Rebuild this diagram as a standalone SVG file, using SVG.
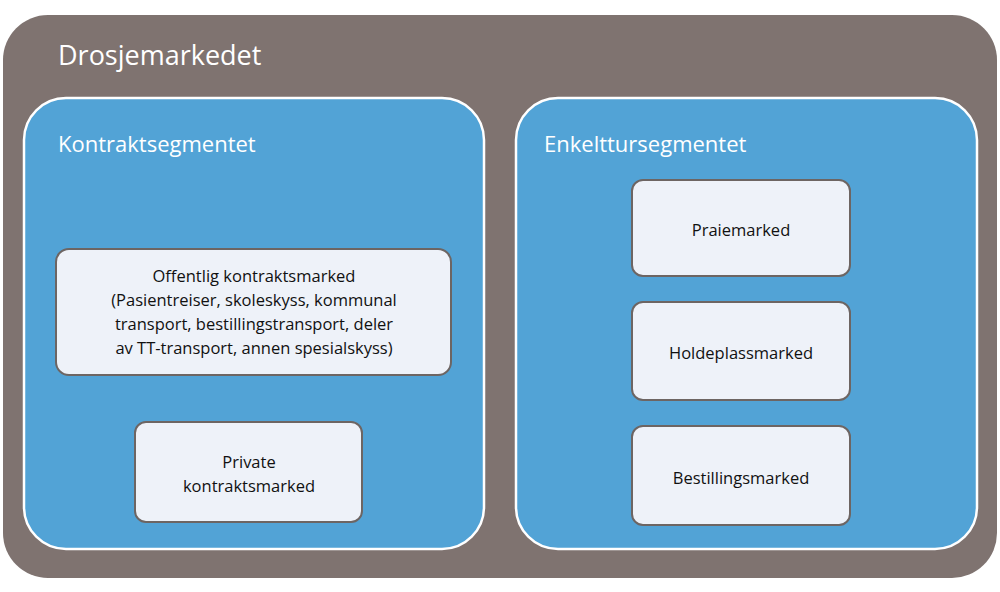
<svg xmlns="http://www.w3.org/2000/svg" width="1000" height="592" viewBox="0 0 1000 592">
<style>
.outer{fill:#7f7370}
.seg{fill:#52a3d6;stroke:#ffffff;stroke-width:2.5}
.box{fill:#eef2f9;stroke:#6d6563;stroke-width:2}
.h1{font-family:"Open Sans","Liberation Sans",sans-serif;font-size:27px;fill:#ffffff}
.h2{font-family:"Open Sans","Liberation Sans",sans-serif;font-size:22px;fill:#ffffff}
.t{font-family:"Open Sans","Liberation Sans",sans-serif;font-size:16.5px;fill:#111111;text-anchor:middle}
</style>
<rect x="0" y="0" width="1000" height="592" fill="#ffffff"/>
<g id="drosjemarkedet">
<rect class="outer" x="3" y="15" width="994" height="563" rx="45"/>
<text class="h1" x="58" y="65">Drosjemarkedet</text>
</g>
<g id="kontraktsegmentet">
<rect class="seg" x="24" y="98" width="460" height="451" rx="42"/>
<text class="h2" x="58" y="152">Kontraktsegmentet</text>
</g>
<g id="enkelttursegmentet">
<rect class="seg" x="516" y="98" width="461" height="451" rx="42"/>
<text class="h2" x="544" y="152">Enkelttursegmentet</text>
</g>
<g id="offentlig">
<rect class="box" x="56" y="249" width="395" height="126" rx="13"/>
<text class="t" x="254" y="282">Offentlig kontraktsmarked</text>
<text class="t" x="254" y="306">(Pasientreiser, skoleskyss, kommunal</text>
<text class="t" x="254" y="330">transport, bestillingstransport, deler</text>
<text class="t" x="254" y="354">av TT-transport, annen spesialskyss)</text>
</g>
<g id="private">
<rect class="box" x="135" y="422" width="227" height="100" rx="11"/>
<text class="t" x="249" y="468">Private</text>
<text class="t" x="249" y="492">kontraktsmarked</text>
</g>
<g id="praiemarked">
<rect class="box" x="632" y="180" width="218" height="96" rx="11"/>
<text class="t" x="741" y="236">Praiemarked</text>
</g>
<g id="holdeplassmarked">
<rect class="box" x="632" y="302" width="218" height="98" rx="11"/>
<text class="t" x="741" y="359">Holdeplassmarked</text>
</g>
<g id="bestillingsmarked">
<rect class="box" x="632" y="426" width="218" height="99" rx="11"/>
<text class="t" x="741" y="484">Bestillingsmarked</text>
</g>
<g id="connectors"></g>
</svg>
